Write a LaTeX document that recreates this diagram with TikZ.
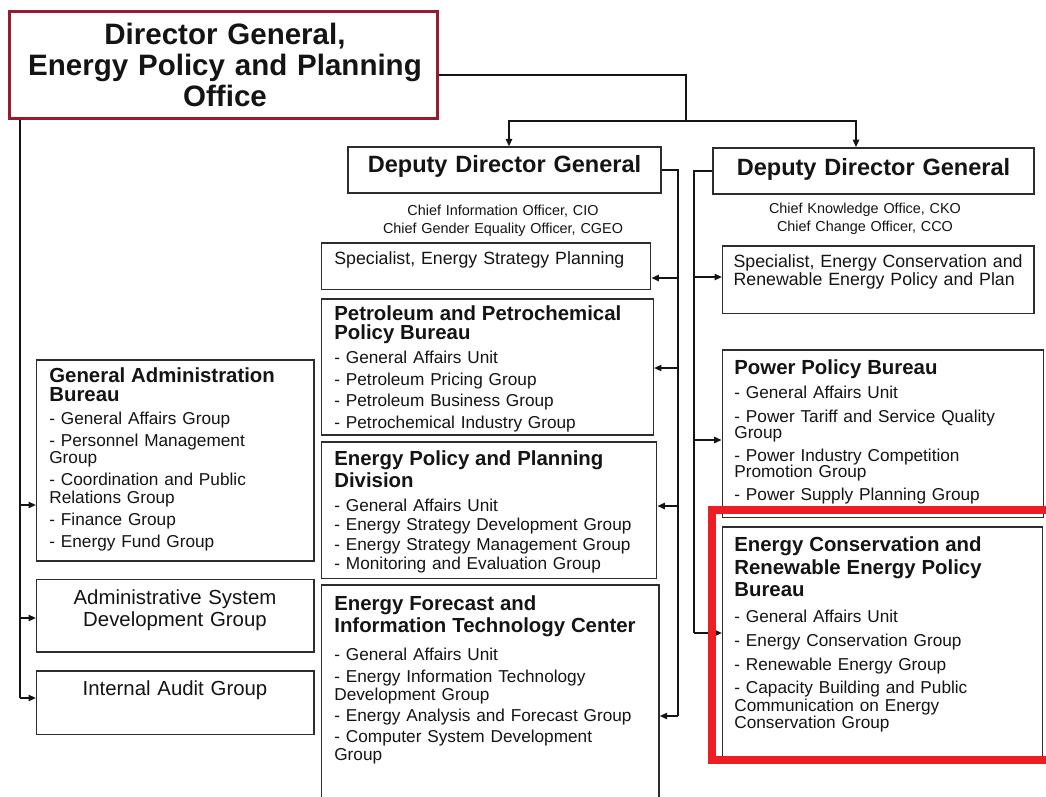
\documentclass[tikz,border=0pt]{standalone}
\usepackage{fontspec}
\setmainfont{Liberation Sans}
\usetikzlibrary{fit, arrows.meta}

\definecolor{ink}{RGB}{20,20,20}
\definecolor{boxgray}{RGB}{45,45,45}
\definecolor{dgred}{RGB}{150,28,48}
\definecolor{markred}{RGB}{236,30,36}

% heading and list fonts inside the bureau boxes
\newcommand{\hd}[1][12pt]{\fontsize{11.6}{#1}\selectfont\bfseries\ignorespaces}
\newcommand{\unitlist}[2][10pt]{\par\vspace{#2}\fontsize{9.8}{#1}\selectfont\mdseries}

\begin{document}
\begin{tikzpicture}[x=0.02cm, y=-0.02cm,
  orgbox/.style={draw=boxgray, line width=0.9pt, inner sep=0pt},
  txt/.style={anchor=base west, inner sep=0pt, align=left, text width=200pt, text=ink},
  ctxt/.style={anchor=base, inner sep=0pt, align=center, text width=240pt, text=ink},
  link/.style={draw=ink, line width=0.85pt},
  arr/.style={link, -{Triangle[length=4.2pt, width=3.6pt]}},
]
\useasboundingbox (0,0) rectangle (1046,796);
\clip (0,0) rectangle (1046,796);
\fill[white] (0,0) rectangle (1046,796);

% Director General
\node[orgbox, draw=dgred, line width=1.7pt, fit={(9.5,11.7) (437.7,118.3)}] (dg) {};
\node[ctxt, text width=260pt, font=\fontsize{16.8}{17.7}\selectfont\bfseries] (dg-t) at (225,44.5)
  {Director General,\\Energy Policy and Planning\\Office\par};

% Deputy Director Generals
\node[orgbox, line width=1.1pt, fit={(348.3,147.3) (660.7,192.7)}] (ddg1) {};
\node[ctxt, font=\fontsize{13.4}{14}\selectfont\bfseries] (ddg1-t) at (504.5,172.5) {Deputy Director General};
\node[ctxt, font=\fontsize{8.2}{10.4}\selectfont] (cio) at (503,215)
  {Chief Information Officer, CIO\\Chief Gender Equality Officer, CGEO\par};

\node[orgbox, line width=1.1pt, fit={(712.7,148) (1034.3,194.3)}] (ddg2) {};
\node[ctxt, font=\fontsize{13.4}{14}\selectfont\bfseries] (ddg2-t) at (873.5,175) {Deputy Director General};
\node[ctxt, font=\fontsize{8.2}{10.4}\selectfont] (cko) at (865,213.3)
  {Chief Knowledge Office, CKO\\Chief Change Officer, CCO\par};

% left column
\node[orgbox, fit={(36.7,360) (314,560.7)}] (gab) {};
\node[txt] (gab-t) at (49,382)
  {\hd[11.3pt] General Administration\\Bureau\unitlist{2.7pt}- General Affairs Group\\[2.5pt]- Personnel Management\\Group\\[2.5pt]- Coordination and Public\\Relations Group\\[2.5pt]- Finance Group\\[2.5pt]- Energy Fund Group\par};

\node[orgbox, fit={(36.7,579.3) (314,651.7)}] (asd) {};
\node[ctxt, font=\fontsize{11.6}{12.7}\selectfont] (asd-t) at (175,604.3) {Administrative System\\Development Group\par};

\node[orgbox, fit={(36.7,670.7) (314,734.3)}] (iag) {};
\node[ctxt, font=\fontsize{11.6}{12.7}\selectfont] (iag-t) at (175,695) {Internal Audit Group};

% middle column
\node[orgbox, fit={(321.7,242.7) (650.7,289.3)}] (spec1) {};
\node[txt, font=\fontsize{10.1}{10.1}\selectfont] (spec1-t) at (334,264) {Specialist, Energy Strategy Planning};

\node[orgbox, fit={(321.7,298.7) (653.3,435)}] (petro) {};
\node[txt] (petro-t) at (334,320)
  {\hd[11.3pt] Petroleum and Petrochemical\\Policy Bureau\unitlist{3.7pt}- General Affairs Unit\\[2.2pt]- Petroleum Pricing Group\\[2.2pt]- Petroleum Business Group\\[2.2pt]- Petrochemical Industry Group\par};

\node[orgbox, fit={(321.7,441.7) (656.7,578.3)}] (eppd) {};
\node[txt] (eppd-t) at (334,465)
  {\hd[12.7pt] Energy Policy and Planning\\Division\unitlist{3.5pt}- General Affairs Unit\\[1.1pt]- Energy Strategy Development Group\\[1.1pt]- Energy Strategy Management Group\\[1.1pt]- Monitoring and Evaluation Group\par};

\node[orgbox, fit={(321.7,585) (659,812)}] (efit) {};
\node[txt] (efit-t) at (334,610)
  {\hd[12.9pt] Energy Forecast and\\Information Technology Center\unitlist[10.4pt]{5.7pt}- General Affairs Unit\\[1.6pt]- Energy Information Technology\\Development Group\\[1.6pt]- Energy Analysis and Forecast Group\\[1.6pt]- Computer System Development\\Group\par};

% right column
\node[orgbox, fit={(722.7,245.7) (1034,313.3)}] (spec2) {};
\node[txt, font=\fontsize{10.1}{10.1}\selectfont] (spec2-t) at (733.3,267.3)
  {Specialist, Energy Conservation and\\Renewable Energy Policy and Plan\par};

\node[orgbox, fit={(722.3,350) (1043.3,517.3)}] (power) {};
\node[txt] (power-t) at (734,374)
  {\hd Power Policy Bureau\unitlist[9.2pt]{3.7pt}- General Affairs Unit\\[4pt]- Power Tariff and Service Quality\\Group\\[4pt]- Power Industry Competition\\Promotion Group\\[4pt]- Power Supply Planning Group\par};

\node[orgbox, fit={(722.7,526.7) (1042.7,756.7)}] (ecrep) {};
\node[txt] (ecrep-t) at (734,551.7)
  {\hd[12.8pt] Energy Conservation and\\Renewable Energy Policy\\Bureau\unitlist{4.8pt}- General Affairs Unit\\[3.5pt]- Energy Conservation Group\\[3.5pt]- Renewable Energy Group\\[3.5pt]- Capacity Building and Public\\Communication on Energy\\Conservation Group\par};

% connectors from the Director General
\coordinate (bus) at (686,121);
\draw[link] (dg.east |- 0,75) -| (bus);
\draw[arr] (bus) -| (ddg1.north -| 509,0);
\draw[arr] (bus) -| (ddg2.north -| 856,0);

\coordinate (spineA) at (20,698);
\draw[link] (dg.south -| spineA) -- (spineA);
\foreach \n/\y in {gab/505, asd/618, iag/698}
  \draw[arr] (spineA |- 0,\y) -- (\n.west |- 0,\y);

% connectors from the deputies
\coordinate (spineB) at (678,716);
\draw[link] (ddg1.east) -| (spineB);
\foreach \n/\y in {spec1/278, petro/368, eppd/506, efit/716}
  \draw[arr] (spineB |- 0,\y) -- (\n.east |- 0,\y);

\coordinate (spineC) at (694,633);
\draw[link] (ddg2.west) -| (spineC);
\foreach \n/\y in {spec2/277, power/440, ecrep/633}
  \draw[arr] (spineC |- 0,\y) -- (\n.west |- 0,\y);

% highlight
\draw[markred, line width=4pt] (712,510) rectangle (1070,760);
\end{tikzpicture}
\end{document}
